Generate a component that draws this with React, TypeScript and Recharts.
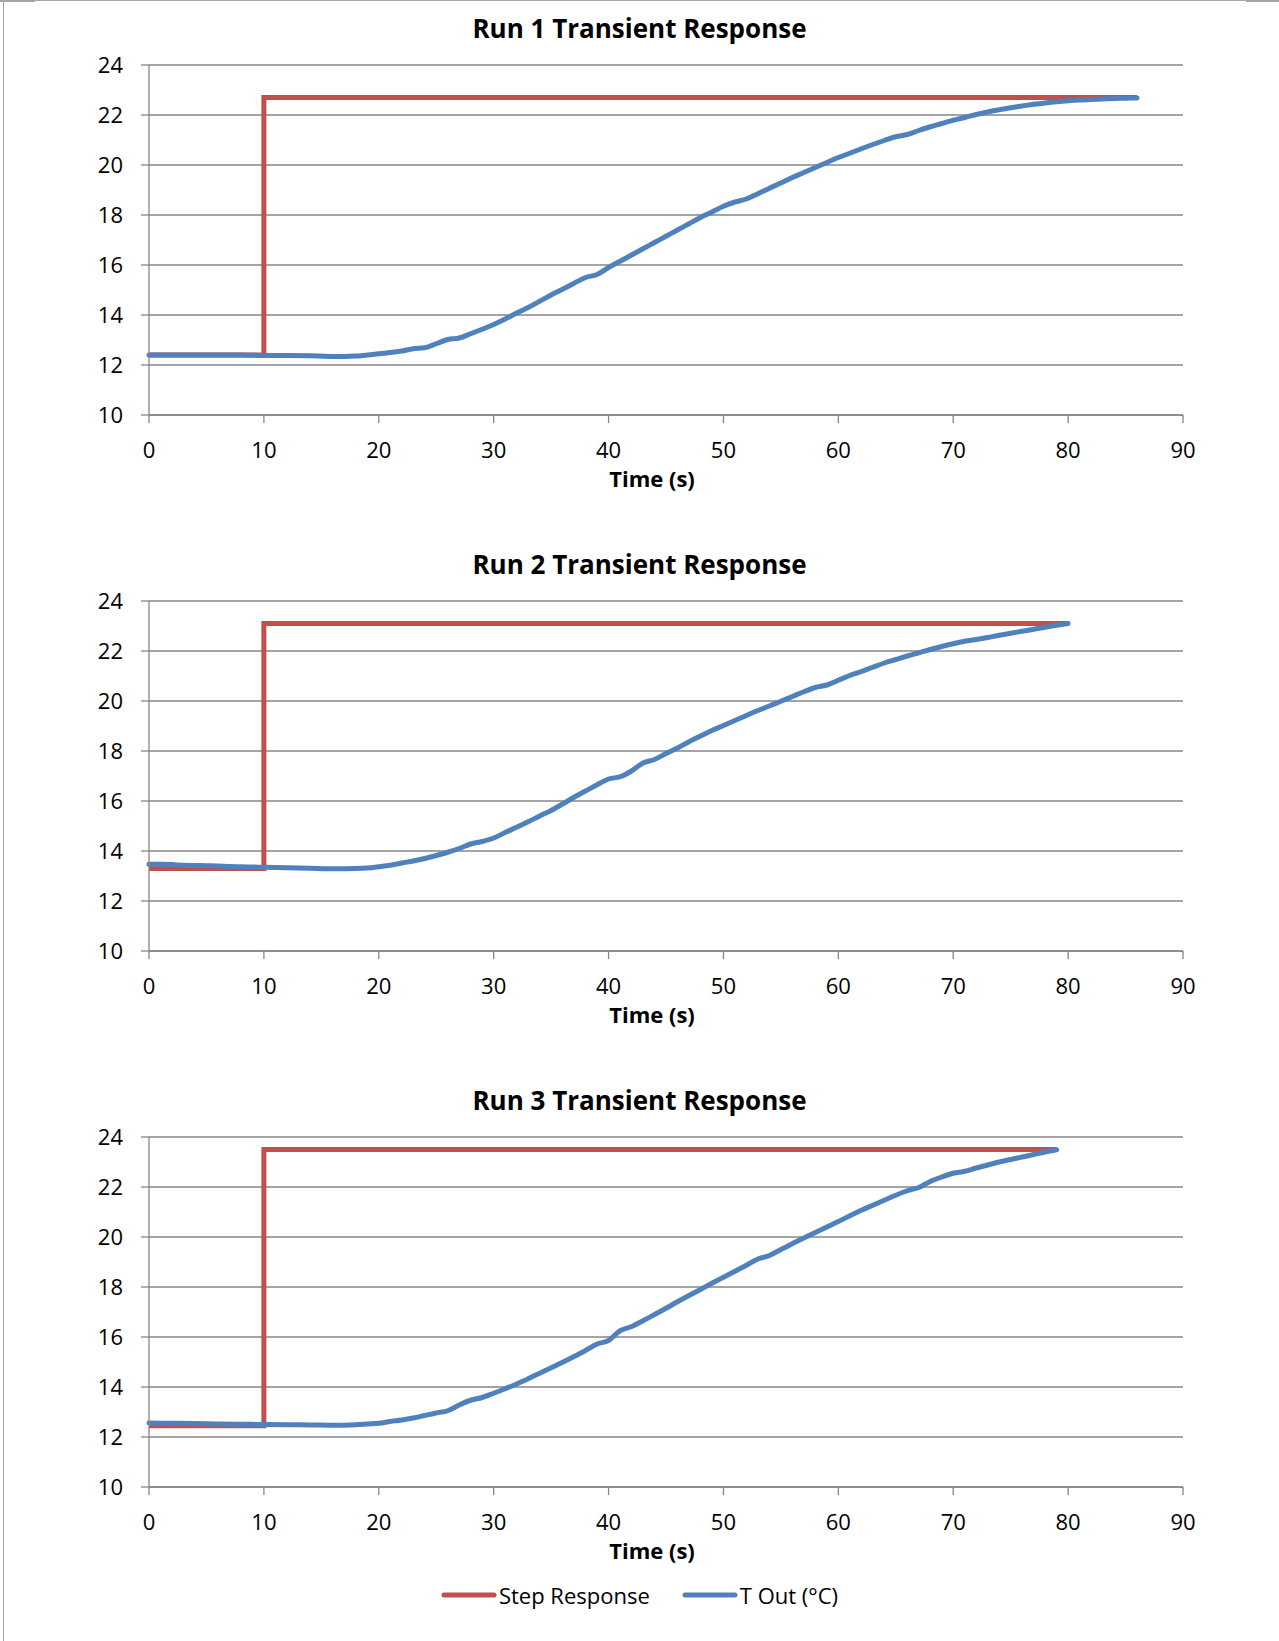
import React from 'react';
import { LineChart, Line, XAxis, YAxis, CartesianGrid, Legend } from 'recharts';

const xTicks = [0, 10, 20, 30, 40, 50, 60, 70, 80, 90];
const yTicks = [10, 12, 14, 16, 18, 20, 22, 24];
const runTitles = ['Run 1 Transient Response', 'Run 2 Transient Response', 'Run 3 Transient Response'];
const seriesNames = ['Step Response', 'T Out (°C)'];
const seriesColors = ['#C0504D', '#4F81BD'];
const xAxisTitle = 'Time (s)';

// Run 1
const run1Time = [0, 2, 4, 6, 8, 10, 12, 14, 16, 18, 20, 22, 23, 24, 25, 26, 27, 28, 29, 30, 31, 32, 33, 34, 35, 36, 37, 38, 39, 40, 41, 42, 43, 44, 45, 46, 47, 48, 49, 50, 51, 52, 53, 54, 55, 56, 57, 58, 59, 60, 61, 62, 63, 64, 65, 66, 67, 68, 69, 70, 71, 72, 73, 74, 75, 76, 77, 78, 79, 80, 81, 82, 83, 84, 85, 86];
const run1Tout = [12.4, 12.4, 12.4, 12.4, 12.4, 12.38, 12.38, 12.37, 12.34, 12.36, 12.45, 12.56, 12.65, 12.69, 12.85, 13.02, 13.08, 13.25, 13.43, 13.62, 13.84, 14.08, 14.3, 14.55, 14.8, 15.03, 15.27, 15.5, 15.62, 15.9, 16.15, 16.4, 16.65, 16.9, 17.15, 17.4, 17.65, 17.9, 18.12, 18.35, 18.52, 18.64, 18.85, 19.07, 19.28, 19.5, 19.7, 19.9, 20.1, 20.3, 20.47, 20.65, 20.82, 20.98, 21.13, 21.22, 21.38, 21.53, 21.66, 21.79, 21.9, 22.02, 22.12, 22.21, 22.29, 22.36, 22.43, 22.48, 22.53, 22.57, 22.6, 22.62, 22.64, 22.66, 22.67, 22.68];
const step1Time = [0, 10, 10, 86];
const step1Value = [12.4, 12.4, 22.7, 22.7];

// Run 2
const run2Time = [0, 1, 2, 3, 4, 5, 6, 7, 8, 9, 10, 12, 14, 16, 18, 19, 20, 21, 22, 23, 24, 25, 26, 27, 28, 29, 30, 31, 32, 33, 34, 35, 36, 37, 38, 39, 40, 41, 42, 43, 44, 45, 46, 47, 48, 49, 50, 51, 52, 53, 54, 55, 56, 57, 58, 59, 60, 61, 62, 63, 64, 65, 66, 67, 68, 69, 70, 71, 72, 73, 74, 75, 76, 77, 78, 79, 80];
const run2Tout = [13.47, 13.47, 13.46, 13.43, 13.42, 13.41, 13.4, 13.38, 13.37, 13.36, 13.35, 13.33, 13.31, 13.29, 13.3, 13.32, 13.37, 13.43, 13.52, 13.6, 13.7, 13.82, 13.95, 14.1, 14.28, 14.38, 14.52, 14.74, 14.95, 15.17, 15.4, 15.62, 15.88, 16.15, 16.4, 16.65, 16.88, 16.97, 17.2, 17.52, 17.66, 17.9, 18.12, 18.37, 18.6, 18.82, 19.02, 19.22, 19.42, 19.62, 19.8, 19.99, 20.18, 20.37, 20.54, 20.64, 20.83, 21.02, 21.18, 21.35, 21.52, 21.66, 21.8, 21.93, 22.06, 22.18, 22.29, 22.39, 22.46, 22.54, 22.63, 22.71, 22.79, 22.87, 22.95, 23.03, 23.1];
const step2Time = [0, 10, 10, 80];
const step2Value = [13.3, 13.3, 23.1, 23.1];

// Run 3
const run3Time = [0, 2, 4, 6, 8, 10, 12, 14, 16, 18, 19, 20, 21, 22, 23, 24, 25, 26, 27, 28, 29, 30, 31, 32, 33, 34, 35, 36, 37, 38, 39, 40, 41, 42, 43, 44, 45, 46, 47, 48, 49, 50, 51, 52, 53, 54, 55, 56, 57, 58, 59, 60, 61, 62, 63, 64, 65, 66, 67, 68, 69, 70, 71, 72, 73, 74, 75, 76, 77, 78, 79];
const run3Tout = [12.56, 12.55, 12.54, 12.52, 12.51, 12.5, 12.49, 12.48, 12.47, 12.49, 12.52, 12.55, 12.62, 12.68, 12.76, 12.86, 12.96, 13.05, 13.28, 13.47, 13.58, 13.75, 13.93, 14.12, 14.33, 14.55, 14.77, 14.99, 15.22, 15.46, 15.72, 15.86, 16.25, 16.42, 16.65, 16.9, 17.15, 17.41, 17.66, 17.9, 18.15, 18.39, 18.63, 18.87, 19.12, 19.26, 19.5, 19.73, 19.96, 20.18, 20.4, 20.62, 20.85, 21.07, 21.27, 21.47, 21.67, 21.85, 21.98, 22.22, 22.4, 22.55, 22.63, 22.76, 22.88, 23.0, 23.1, 23.2, 23.3, 23.4, 23.49];
const step3Time = [0, 10, 10, 79];
const step3Value = [12.45, 12.45, 23.5, 23.5];

const zip = (t: number[], v: number[]) => t.map((x, i) => ({ t: x, v: v[i] }));

const runs = [
  { step: zip(step1Time, step1Value), tout: zip(run1Time, run1Tout) },
  { step: zip(step2Time, step2Value), tout: zip(run2Time, run2Tout) },
  { step: zip(step3Time, step3Value), tout: zip(run3Time, run3Tout) },
];

const W = 1279;
const PLOT_TOP = 65;
const PLOT_H = 350;
const XAXIS_H = 80;
const YAXIS_W = 149;
const RIGHT = 96;
const SPACING = 536;
const FONT = '"Open Sans", sans-serif';
const GRID = '#868686';

const renderLegend = () => (
  <div style={{ display: 'flex', justifyContent: 'center', alignItems: 'center', fontSize: 22, fontFamily: FONT, color: '#000', height: 32 }}>
    {seriesNames.map((n, i) => (
      <div key={n} style={{ display: 'flex', alignItems: 'center', marginRight: i === 0 ? 32 : 0 }}>
        <svg width={56} height={10}>
          <line x1={3} y1={5} x2={53} y2={5} stroke={seriesColors[i]} strokeWidth={5} strokeLinecap="round" />
        </svg>
        <span style={{ marginLeft: 2 }}>{n}</span>
      </div>
    ))}
  </div>
);

function RunChart({ idx, withLegend }: { idx: number; withLegend: boolean }) {
  const height = withLegend ? 569 : 520;
  const r = runs[idx];
  return (
    <div style={{ position: 'absolute', left: 0, top: idx * SPACING, width: W, height }}>
      <LineChart
        width={W}
        height={height}
        margin={{ top: PLOT_TOP, right: RIGHT, left: 0, bottom: height - PLOT_TOP - PLOT_H - XAXIS_H }}
      >
        <CartesianGrid vertical={false} stroke={GRID} strokeWidth={1.3} />
        <XAxis
          type="number"
          dataKey="t"
          domain={[0, 90]}
          ticks={xTicks}
          interval={0}
          height={XAXIS_H}
          tickSize={8}
          tickMargin={19}
          stroke={GRID}
          strokeWidth={1.3}
          tick={{ fontSize: 22, fill: '#000', fontFamily: FONT }}
          label={{ value: xAxisTitle, position: 'insideTop', offset: 56, dx: -14, fontSize: 22, fontWeight: 700, fill: '#000', fontFamily: FONT }}
        />
        <YAxis
          type="number"
          domain={[10, 24]}
          ticks={yTicks}
          interval={0}
          width={YAXIS_W}
          tickSize={8}
          tickMargin={18}
          stroke={GRID}
          strokeWidth={1.3}
          tick={{ fontSize: 22, fill: '#000', fontFamily: FONT }}
        />
        <Line
          data={r.step}
          dataKey="v"
          name={seriesNames[0]}
          type="linear"
          stroke={seriesColors[0]}
          strokeWidth={5}
          dot={false}
          activeDot={false}
          isAnimationActive={false}
        />
        <Line
          data={r.tout}
          dataKey="v"
          name={seriesNames[1]}
          type="monotone"
          stroke={seriesColors[1]}
          strokeWidth={5}
          strokeLinecap="round"
          strokeLinejoin="round"
          dot={false}
          activeDot={false}
          isAnimationActive={false}
        />
        {withLegend && (
          <Legend
            layout="horizontal"
            verticalAlign="middle"
            align="center"
            content={renderLegend}
            wrapperStyle={{ top: 507, left: 0, width: W }}
          />
        )}
      </LineChart>
      <div
        style={{
          position: 'absolute',
          left: 0,
          top: 10,
          width: W,
          height: 36,
          lineHeight: '36px',
          textAlign: 'center',
          fontWeight: 700,
          fontSize: 26,
          fontFamily: FONT,
          color: '#000',
        }}
      >
        {runTitles[idx]}
      </div>
    </div>
  );
}

export default function App() {
  return (
    <div style={{ position: 'absolute', left: 0, top: 0, width: W, height: 1641, background: '#fff', overflow: 'hidden', fontFamily: FONT }}>
      <div style={{ position: 'absolute', left: 3, top: 0, width: W, height: 1641, borderLeft: '1.5px solid #a6a6a6', borderTop: '1px solid #a6a6a6' }} />
      <div style={{ position: 'absolute', left: 0, top: 0, width: 35, height: 2, background: '#a6a6a6' }} />
      <div style={{ position: 'absolute', left: 1246, top: 0, width: 33, height: 2, background: '#a6a6a6' }} />
      {[0, 1, 2].map((i) => (
        <RunChart key={i} idx={i} withLegend={i === 2} />
      ))}
    </div>
  );
}
